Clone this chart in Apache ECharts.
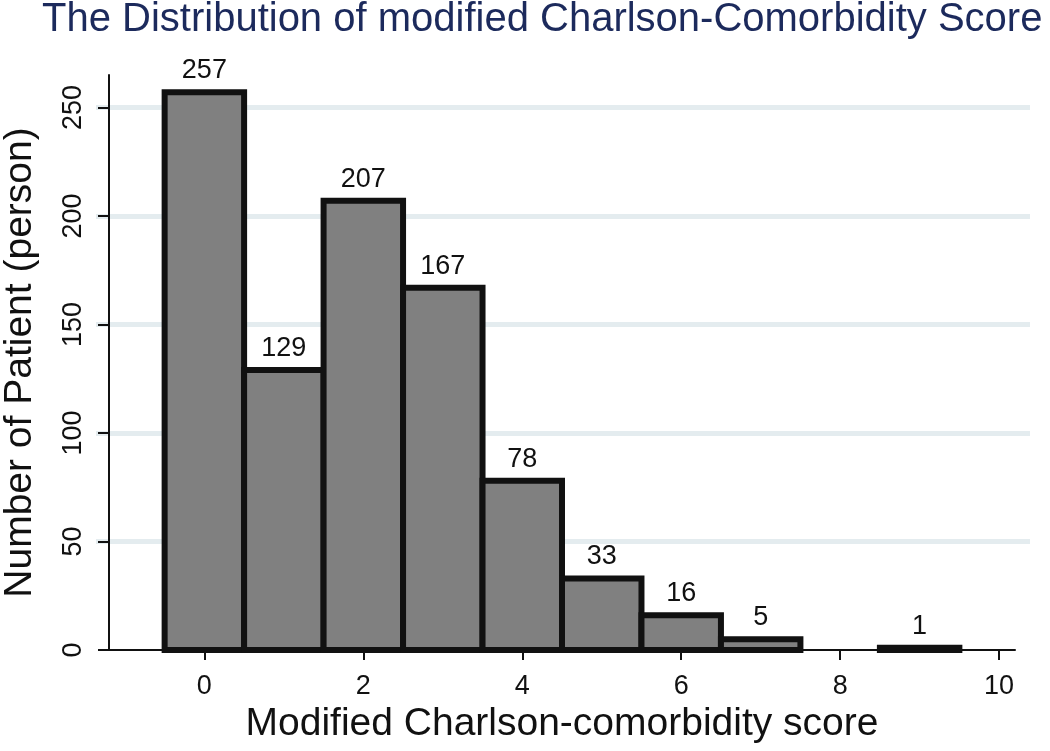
<!DOCTYPE html>
<html>
<head>
<meta charset="utf-8">
<script src="https://cdn.jsdelivr.net/npm/echarts@6/dist/echarts.min.js"></script>
<style>
html,body{margin:0;padding:0;background:#fff;}
#chart{width:1050px;height:751px;}
</style>
</head>
<body>
<div id="chart"></div>
<script>
const scores = [0, 1, 2, 3, 4, 5, 6, 7, 8, 9];
const patients = [257, 129, 207, 167, 78, 33, 16, 5, 0, 1];
const xTicks = [0, 2, 4, 6, 8, 10];
const yTicks = [0, 50, 100, 150, 200, 250];
const titleText = 'The Distribution of modified Charlson-Comorbidity Score';
const xName = 'Modified Charlson-comorbidity score';
const yName = 'Number of Patient (person)';

const FONT = '"Liberation Sans", Arial, Helvetica, sans-serif';
const chart = echarts.init(document.getElementById('chart'), null, {renderer: 'canvas'});

function renderItem(params, api) {
  const x = api.value(0), v = api.value(1);
  if (!v) return null;
  const tl = api.coord([x - 0.5, v]);
  const br = api.coord([x + 0.5, 0]);
  return {
    type: 'group',
    children: [
      {type: 'rect', shape: {x: tl[0], y: tl[1], width: br[0] - tl[0], height: br[1] - tl[1]},
       style: {fill: '#808080', stroke: '#111111', lineWidth: 6}},
      {type: 'text', style: {text: String(v), x: (tl[0] + br[0]) / 2, y: tl[1] - 8,
        align: 'center', verticalAlign: 'bottom', fontSize: 27, fontFamily: FONT, fill: '#111111'}}
    ]
  };
}

const option = {
  backgroundColor: '#ffffff',
  animation: false,
  title: {
    text: titleText, left: 37, top: -5,
    textStyle: {fontSize: 40, fontWeight: 'normal', fontFamily: FONT, color: '#1c2a5c'}
  },
  grid: [
    {left: 96, right: 20, top: 75, bottom: 101, containLabel: false, outerBoundsMode: 'none'},
    {left: 109, right: 35, top: 75, bottom: 101, containLabel: false, outerBoundsMode: 'none'}
  ],
  xAxis: [
    {gridIndex: 0, type: 'value', min: -1.2, max: 10.2, show: false},
    {gridIndex: 1, type: 'value', min: -1.2, max: 10.2,
     name: xName, nameLocation: 'middle', nameGap: 55,
     nameTextStyle: {fontSize: 39, fontFamily: FONT, color: '#111111'},
     axisLine: {show: true, onZero: false, lineStyle: {color: '#111111', width: 2}},
     axisTick: {show: true, length: 10, customValues: xTicks, lineStyle: {color: '#111111', width: 2}},
     axisLabel: {customValues: xTicks, fontSize: 27, fontFamily: FONT, color: '#111111', margin: 23},
     splitLine: {show: false}}
  ],
  yAxis: [
    {gridIndex: 0, type: 'value', min: 0, max: 265, interval: 50,
     axisLine: {show: false}, axisTick: {show: false}, axisLabel: {show: false},
     splitLine: {show: true, showMinLine: false, showMaxLine: false, lineStyle: {color: '#e4ecef', width: 5}}},
    {gridIndex: 1, type: 'value', min: 0, max: 265,
     name: yName, nameLocation: 'middle', nameGap: 69,
     nameTextStyle: {fontSize: 39, fontFamily: FONT, color: '#111111'},
     axisLine: {show: true, onZero: false, lineStyle: {color: '#111111', width: 2}},
     axisTick: {show: true, length: 11, customValues: yTicks, lineStyle: {color: '#111111', width: 2}},
     axisLabel: {customValues: yTicks, rotate: 90, fontSize: 27, fontFamily: FONT, color: '#111111', margin: 22},
     splitLine: {show: false}}
  ],
  series: [{
    type: 'custom',
    xAxisIndex: 1, yAxisIndex: 1,
    renderItem: renderItem,
    data: scores.map((s, i) => [s, patients[i]]),
    clip: false
  }]
};
chart.setOption(option);
</script>
</body>
</html>
